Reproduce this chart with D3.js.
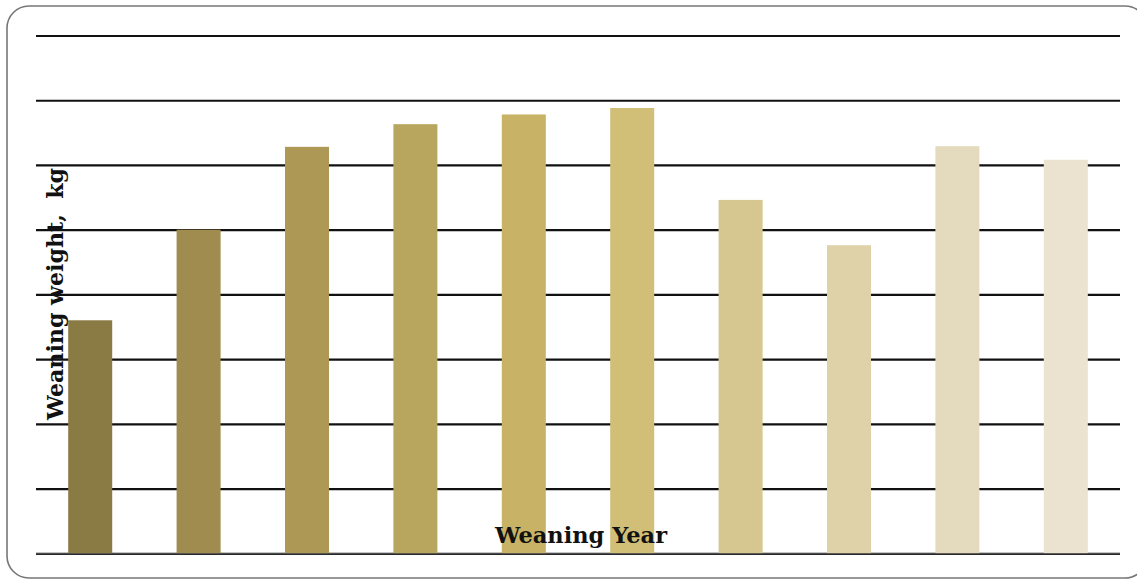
<!DOCTYPE html>
<html>
<head>
<meta charset="utf-8">
<script src="https://cdn.jsdelivr.net/npm/d3@7"></script>
<style>
  html, body { margin: 0; padding: 0; background: #fff; }
  svg { display: block; }
</style>
</head>
<body>
<svg id="chart" width="1137" height="580"></svg>
<script>
// Mean weaning weight per weaning year (kg)
const years = ["Y1", "Y2", "Y3", "Y4", "Y5", "Y6", "Y7", "Y8", "Y9", "Y10"];
const weights = [186.0, 200.0, 212.8, 216.3, 217.8, 218.8, 204.6, 197.6, 212.9, 210.8];
const barColors = ["#8a7b45", "#9f8c4e", "#ad9955", "#b9a65e", "#c7b265",
                   "#d1be77", "#d6c690", "#dfd1a8", "#e4dabd", "#ebe2cf"];
const gridTicks = [150, 160, 170, 180, 190, 200, 210, 220, 230];

const svg = d3.select("#chart");
const plot = { left: 36, right: 1120, top: 35.5, bottom: 553.3 };

// Rounded frame around the chart area
svg.append("rect")
  .attr("x", 7).attr("y", 6)
  .attr("width", 1140).attr("height", 572)
  .attr("rx", 22).attr("ry", 22)
  .attr("fill", "#fff")
  .attr("stroke", "#777").attr("stroke-width", 1.6);

const x = d3.scaleBand()
  .domain(years)
  .range([plot.left, plot.right])
  .paddingInner(0.594)
  .paddingOuter(0.297);

const y = d3.scaleLinear()
  .domain([d3.min(gridTicks), d3.max(gridTicks)])
  .range([plot.bottom, plot.top]);

// Horizontal gridlines
const grid = svg.append("g")
  .call(d3.axisLeft(y).tickValues(gridTicks)
    .tickSize(-(plot.right - plot.left)).tickFormat(""))
  .attr("transform", `translate(${plot.left},0)`);
grid.select(".domain").remove();
grid.selectAll(".tick line")
  .attr("stroke", "#111").attr("stroke-width", 2.2);

// Bars
svg.append("g").selectAll("rect")
  .data(weights)
  .join("rect")
  .attr("x", (d, i) => x(years[i]))
  .attr("width", x.bandwidth())
  .attr("y", d => y(d))
  .attr("height", d => y(y.domain()[0]) - y(d))
  .attr("fill", (d, i) => barColors[i]);

// Baseline along the bar feet
svg.append("line")
  .attr("x1", plot.left).attr("x2", plot.right)
  .attr("y1", plot.bottom + 0.5).attr("y2", plot.bottom + 0.5)
  .attr("stroke", "#666").attr("stroke-width", 1);

// Axis titles
svg.append("text")
  .attr("x", 495).attr("y", 543)
  .attr("textLength", 172).attr("lengthAdjust", "spacingAndGlyphs")
  .attr("font-family", "'DejaVu Serif', serif")
  .attr("font-weight", "bold").attr("font-size", 22)
  .attr("fill", "#111")
  .text("Weaning Year");

svg.append("text")
  .attr("transform", "translate(63,420) rotate(-90)")
  .attr("textLength", 252).attr("lengthAdjust", "spacingAndGlyphs")
  .attr("font-family", "'DejaVu Serif', serif")
  .attr("font-weight", "bold").attr("font-size", 22)
  .attr("fill", "#111")
  .attr("xml:space", "preserve")
  .text("Weaning weight,  kg");
</script>
</body>
</html>
